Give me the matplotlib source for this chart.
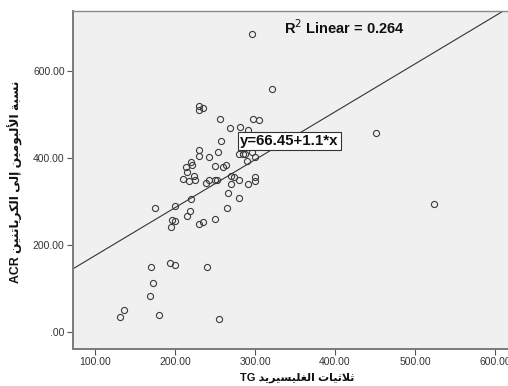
import numpy as np
import matplotlib
matplotlib.use("Agg")
import matplotlib.pyplot as plt
from matplotlib.ticker import FuncFormatter

# ---------------- data ----------------
tg = [295.8, 321.7, 229.6, 229.6, 235.4, 256.3, 297.5, 305.4, 269.0, 281.0,
      290.8, 257.5, 450.8, 230.4, 230.4, 253.3, 242.5, 296.0, 279.6, 284.6,
      287.5, 300.4, 290.4, 220.0, 220.8, 213.3, 250.4, 263.8, 260.4, 215.4,
      223.3, 210.0, 217.9, 225.4, 238.8, 243.0, 250.0, 252.0, 270.4, 273.8,
      280.4, 270.4, 291.7, 300.4, 300.4, 220.4, 266.3, 280.4, 175.0, 200.4,
      219.1, 265.4, 215.4, 196.7, 200.4, 195.0, 230.4, 235.4, 250.4, 523.8,
      193.8, 200.4, 170.4, 239.6, 172.1, 169.2, 136.3, 130.8, 180.4, 255.4]
acr = [686, 558, 519, 511, 515, 490, 490, 488, 469, 471,
       465, 440, 458.6, 419.5, 406, 415, 403, 415, 410, 410,
       410, 403, 394, 391, 385, 380, 383, 385, 380, 369,
       360, 353, 348, 350, 342, 350.6, 351, 351, 359, 358,
       351, 341, 340, 356, 347, 306, 320.6, 307.6, 284.6, 290,
       279, 285.5, 267, 258.6, 257, 243, 250, 253, 260, 294.6,
       159.8, 155, 150, 150, 113.8, 84.6, 51, 35, 41, 31.8]
intercept = 66.45
slope = 1.1
r2 = 0.264
x_ticks = [100, 200, 300, 400, 500, 600]
y_ticks = [0, 200, 400, 600]

# ---------------- minimal Arabic shaping ----------------
FORMS = {
    '\u0627': ('\uFE8D', '\uFE8E', None, None),
    '\u0623': ('\uFE83', '\uFE84', None, None),
    '\u0625': ('\uFE87', '\uFE88', None, None),
    '\u0628': ('\uFE8F', '\uFE90', '\uFE91', '\uFE92'),
    '\u0629': ('\uFE93', '\uFE94', None, None),
    '\u062A': ('\uFE95', '\uFE96', '\uFE97', '\uFE98'),
    '\u062B': ('\uFE99', '\uFE9A', '\uFE9B', '\uFE9C'),
    '\u062F': ('\uFEA9', '\uFEAA', None, None),
    '\u0631': ('\uFEAD', '\uFEAE', None, None),
    '\u0633': ('\uFEB1', '\uFEB2', '\uFEB3', '\uFEB4'),
    '\u063A': ('\uFECD', '\uFECE', '\uFECF', '\uFED0'),
    '\u0643': ('\uFED9', '\uFEDA', '\uFEDB', '\uFEDC'),
    '\u0644': ('\uFEDD', '\uFEDE', '\uFEDF', '\uFEE0'),
    '\u0645': ('\uFEE1', '\uFEE2', '\uFEE3', '\uFEE4'),
    '\u0646': ('\uFEE5', '\uFEE6', '\uFEE7', '\uFEE8'),
    '\u0648': ('\uFEED', '\uFEEE', None, None),
    '\u0649': ('\uFEEF', '\uFEF0', '\uFBE8', '\uFBE9'),
    '\u064A': ('\uFEF1', '\uFEF2', '\uFEF3', '\uFEF4'),
}
LAMALEF = {
    '\u0627': ('\uFEFB', '\uFEFC'),
    '\u0623': ('\uFEF7', '\uFEF8'),
    '\u0625': ('\uFEF9', '\uFEFA'),
}


def joins_next(c):
    return c in FORMS and FORMS[c][2] is not None


def shape(s):
    out = []
    n = len(s)
    i = 0
    while i < n:
        c = s[i]
        if c not in FORMS:
            out.append(c)
            i += 1
            continue
        prev_j = i > 0 and joins_next(s[i - 1])
        if c == '\u0644' and i + 1 < n and s[i + 1] in LAMALEF:
            iso, fin = LAMALEF[s[i + 1]]
            out.append(fin if prev_j else iso)
            i += 2
            continue
        next_j = joins_next(c) and i + 1 < n and s[i + 1] in FORMS
        iso, fin, ini, med = FORMS[c]
        if prev_j and next_j:
            out.append(med)
        elif prev_j:
            out.append(fin)
        elif next_j:
            out.append(ini)
        else:
            out.append(iso)
        i += 1
    return ''.join(reversed(out))


x_label = "TG " + shape("ثلاثيات الغليسيريد")
y_label = "ACR " + shape("نسبة الألبومين إلى الكرياتنين")

# ---------------- plot ----------------
plt.rcParams['font.family'] = ['Liberation Sans', 'DejaVu Sans']

fig = plt.figure(figsize=(5.08, 3.86), dpi=100)
ax = fig.add_axes([73 / 508, 37 / 386, 1 - 73 / 508, (349 - 11) / 386])
ax.set_facecolor('#f0f0f0')

ax.plot(tg, acr, linestyle='none', marker='o', markersize=4.4,
        markerfacecolor='none', markeredgecolor='#3a3a3a', markeredgewidth=0.8)

xl = np.array([72.5, 616.25])
ax.plot(xl, intercept + slope * xl, color='#333333', linewidth=0.8)

ax.set_xlim(72.5, 616.25)
ax.set_ylim(-37.9, 737.9)
ax.set_xticks(x_ticks)
ax.set_yticks(y_ticks)


def fmt(v, pos):
    s = f"{v:.2f}"
    if s.startswith("0."):
        s = s[1:]
    return s


ax.xaxis.set_major_formatter(FuncFormatter(fmt))
ax.yaxis.set_major_formatter(FuncFormatter(fmt))
ax.tick_params(direction='out', length=4, width=0.8, colors='#555555',
               labelsize=7.5, labelcolor='#333333', pad=2)

for side in ['left', 'bottom']:
    ax.spines[side].set_color('#7a7a7a')
    ax.spines[side].set_linewidth(1.4)
ax.spines['top'].set_color('#8a8a8a')
ax.spines['top'].set_linewidth(1.0)
ax.spines['right'].set_visible(False)

ax.text(412, 699, f"R$^2$ Linear = {r2:.3f}", ha='center', va='center',
        fontsize=10.5, fontweight='bold', color='#111111')
ax.text(342.5, 440, f"y={intercept:.2f}+{slope}*x", ha='center', va='center',
        fontsize=10.8, fontweight='bold', color='#111111',
        bbox=dict(boxstyle='square,pad=0.15', facecolor='white',
                  edgecolor='#333333', linewidth=0.8))

fig.text(297 / 508, 1 - 378 / 386, x_label, ha='center', va='center',
         fontsize=8, fontweight='bold', color='#111111')
fig.text(15 / 508, 1 - 182 / 386, y_label, ha='center', va='center',
         rotation=90, fontsize=8.8, fontweight='bold', color='#111111')

fig.savefig("out.png", dpi=100)
